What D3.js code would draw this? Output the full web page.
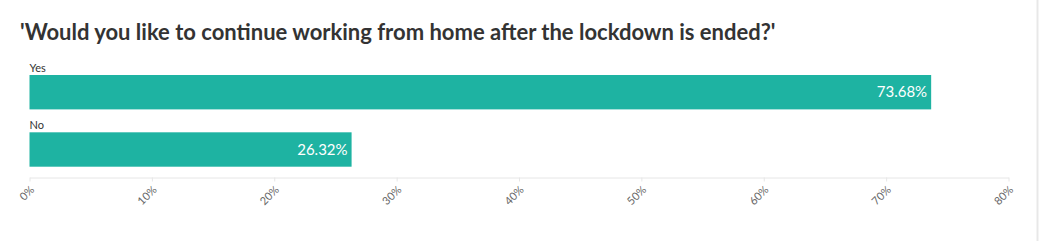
<!DOCTYPE html>
<html><head><meta charset="utf-8">
<script src="https://cdn.jsdelivr.net/npm/d3@7"></script>
<style>
html,body{margin:0;padding:0;background:#fff;}
svg{display:block;}
</style></head>
<body>
<script>
const categories = ["Yes", "No"];
const values = [73.68, 26.32];
const tickValues = [0, 10, 20, 30, 40, 50, 60, 70, 80];
const title = "'Would you like to continue working from home after the lockdown is ended?'";

const W = 1039, H = 241;
const FONT = "'Source Sans Pro','Lato','Open Sans',sans-serif";
const svg = d3.select("body").append("svg").attr("width", W).attr("height", H);

svg.append("line").attr("x1", 1037.5).attr("x2", 1037.5).attr("y1", 0).attr("y2", H)
  .attr("stroke", "#e8e8e8").attr("stroke-width", 2);

svg.append("text").attr("x", 20).attr("y", 40)
  .attr("font-family", FONT)
  .attr("font-weight", "bold").attr("font-size", 22).attr("fill", "#333")
  .text(title);

const x = d3.scaleLinear().domain([0, 80]).range([29.5, 1008.5]);
const y = d3.scaleBand().domain(categories).range([75, 166.7]).paddingInner(0.4).paddingOuter(0);

const rows = svg.append("g").selectAll("g.row").data(categories).enter().append("g");

rows.append("rect")
  .attr("x", x(0))
  .attr("y", (d) => y(d))
  .attr("width", (d, i) => x(values[i]) - x(0))
  .attr("height", y.bandwidth())
  .attr("fill", "#1eb3a2");

rows.append("text")
  .attr("x", x(0))
  .attr("y", (d) => y(d) - 3)
  .attr("font-family", FONT)
  .attr("font-size", 11).attr("fill", "#333")
  .text((d) => d);

rows.append("text")
  .attr("x", (d, i) => x(values[i]) - 4)
  .attr("y", (d) => y(d) + y.bandwidth() / 2)
  .attr("dy", "0.35em")
  .attr("text-anchor", "end")
  .attr("font-family", FONT)
  .attr("font-size", 15).attr("fill", "#fff")
  .text((d, i) => values[i].toFixed(2) + "%");

const axis = d3.axisBottom(x).tickValues(tickValues).tickSize(4).tickSizeOuter(0)
  .tickFormat((d) => d + "%");
const ax = svg.append("g").attr("transform", "translate(0,177.5)").call(axis);
ax.select(".domain").attr("stroke", "#e6e6e6");
ax.selectAll(".tick line").attr("stroke", "#e6e6e6");
ax.selectAll(".tick text")
  .attr("font-family", FONT)
  .attr("font-size", 11).attr("fill", "#666")
  .attr("text-anchor", "end")
  .attr("y", 0).attr("dy", 0)
  .attr("transform", "translate(5,13) rotate(-45)");
</script>
</body></html>
